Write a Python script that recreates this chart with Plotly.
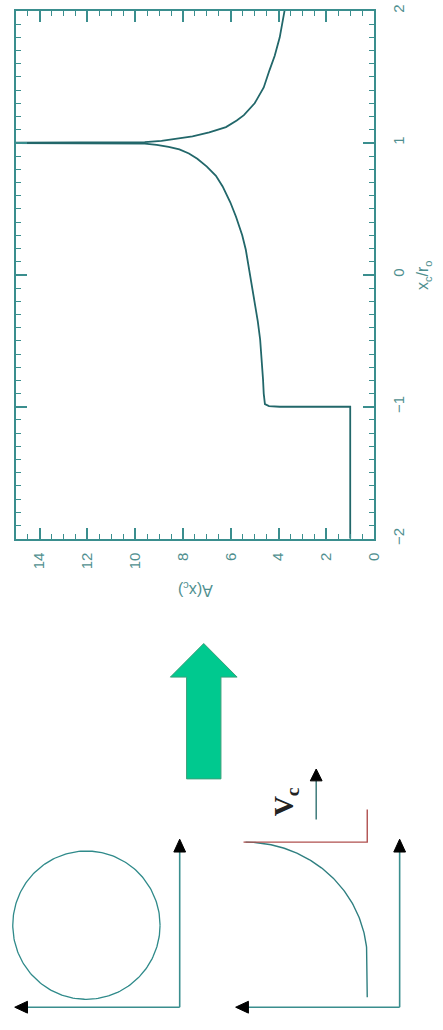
import numpy as np
import plotly.graph_objects as go

# Magnification A as a function of the source-centre position x_c / r_0
xc_pos = [-2.0, -1.0, -1.0, -0.995, -0.98, -0.9, -0.79, -0.65, -0.49, -0.35,
          -0.23, -0.1, 0.0, 0.1, 0.19, 0.3, 0.44, 0.55, 0.67, 0.75, 0.82,
          0.88, 0.92, 0.95, 0.97, 0.985, 0.995, 1.0,
          1.0, 1.005, 1.015, 1.03, 1.05, 1.08, 1.12, 1.17, 1.21, 1.3, 1.42,
          1.55, 1.66, 1.8, 1.9, 2.0]
magnif = [1.0, 1.0, 3.95, 4.4, 4.57, 4.62, 4.65, 4.7, 4.77, 4.87,
          4.98, 5.08, 5.17, 5.27, 5.37, 5.52, 5.78, 6.02, 6.34, 6.62, 7.0,
          7.4, 7.75, 8.15, 8.6, 9.1, 9.6, 20.0,
          20.0, 9.6, 8.9, 8.3, 7.6, 6.9, 6.2, 5.75, 5.45, 5.0, 4.62,
          4.38, 4.16, 3.95, 3.85, 3.75]

a_ticks = [0, 2, 4, 6, 8, 10, 12, 14]
x_ticks = [-2, -1, 0, 1, 2]

W, H = 443, 1030
FRAME = "#3a8e8e"
CURVE = "#22676a"
TEXT = "#4f8f8f"
GREEN = "#00c98f"

fig = go.Figure()

# main panel (drawn turned by 90 degrees: A runs right-to-left, x_c bottom-to-top)
fig.add_trace(go.Scatter(x=magnif, y=xc_pos, mode="lines",
                         line=dict(color=CURVE, width=1.8),
                         xaxis="x", yaxis="y", showlegend=False,
                         hoverinfo="skip"))

# ---- schematic below the panel, in pixel-like units of a hidden axis pair ----
def seg(xs, ys, color=FRAME, width=1.6):
    fig.add_trace(go.Scatter(x=xs, y=ys, mode="lines",
                             line=dict(color=color, width=width),
                             xaxis="x2", yaxis="y2", showlegend=False,
                             hoverinfo="skip"))

def head(tx, ty, dx, dy, length=13, half=6, color="black"):
    # filled triangle with its tip at (tx, ty) pointing along (dx, dy)
    bx, by = tx - dx * length, ty - dy * length
    px, py = -dy, dx
    fig.add_trace(go.Scatter(
        x=[tx, bx + px * half, bx - px * half, tx],
        y=[ty, by + py * half, by - py * half, ty],
        mode="lines", fill="toself", fillcolor=color,
        line=dict(color=color, width=1),
        xaxis="x2", yaxis="y2", showlegend=False, hoverinfo="skip"))

# big green arrow
ax_c, shaft_hw, head_hw = 207.5, 17.5, 34
shaft_lo, shaft_hi, tip = 248, 351, 385
fig.add_trace(go.Scatter(
    x=[ax_c - shaft_hw, ax_c + shaft_hw, ax_c + shaft_hw, ax_c + head_hw,
       ax_c, ax_c - head_hw, ax_c - shaft_hw, ax_c - shaft_hw],
    y=[shaft_lo, shaft_lo, shaft_hi, shaft_hi, tip, shaft_hi, shaft_hi, shaft_lo],
    mode="lines", fill="toself", fillcolor=GREEN,
    line=dict(color="#3aa07a", width=1),
    xaxis="x2", yaxis="y2", showlegend=False, hoverinfo="skip"))

# left sketch: circular source with its frame axes
t = np.linspace(0, 2 * np.pi, 241)
cx, cy, r = 88, 100, 75
seg(cx + r * np.cos(t), cy + r * np.sin(t), color="#2f8a8a", width=1.3)
ox, oy = 183, 17
seg([ox, ox], [oy, 175])
seg([ox, 27], [oy, oy])
head(ox, 187, 0, 1)
head(15, oy, -1, 0)

# right sketch: source edge meeting the caustic, moving with V_c
ox2 = 407
seg([ox2, ox2], [oy, 175])
seg([ox2, 252], [oy, oy])
head(ox2, 187, 0, 1)
head(240, oy, -1, 0)
ex, ey, rx, ry = 250, 65, 124, 119
tt = np.linspace(0, np.pi / 2, 120)
arc_x = np.concatenate([[ex + rx, ex + rx], ex + rx * np.cos(tt)])
arc_y = np.concatenate([[27, ey], ey + ry * np.sin(tt)])
seg(arc_x, arc_y, color="#2f7f80", width=1.4)
seg([248, 374, 374], [184, 184, 217], color="#b0504f", width=1.4)

# velocity arrow and label
seg([322, 322], [207, 246], color="#2f7070", width=1.4)
head(322, 258, 0, 1, length=12, half=6)

fig.add_annotation(x=291, y=225, xref="x2", yref="y2", text="<b>V<sub>c</sub></b>",
                   textangle=-90, showarrow=False,
                   xanchor="center", yanchor="middle",
                   font=dict(family="Liberation Serif", size=28, color="#222222"))

# axis titles
fig.add_annotation(x=199 / W, y=(H - 591) / H, xref="paper", yref="paper",
                   text="A(x<sub>c</sub>)", textangle=180, showarrow=False,
                   xanchor="center", yanchor="middle",
                   font=dict(family="Liberation Sans", size=16, color=TEXT))
fig.add_annotation(x=432 / W, y=(H - 272) / H, xref="paper", yref="paper",
                   text="x<sub>c</sub>/r<sub>o</sub>", textangle=-90, showarrow=False,
                   xanchor="center", yanchor="middle",
                   font=dict(family="Liberation Sans", size=16, color=TEXT))

px0, px1 = 16, 381
py_top, py_bot = 5, 539

fig.update_layout(
    width=W, height=H, margin=dict(l=0, r=0, t=0, b=0),
    paper_bgcolor="white", plot_bgcolor="white", showlegend=False,
    xaxis=dict(domain=[px0 / W, px1 / W], range=[15, 0], anchor="y",
               tickvals=a_ticks, ticktext=[str(v) for v in a_ticks],
               tickangle=-90, ticks="inside", ticklen=11, tickwidth=1.5,
               tickcolor=FRAME, showline=True, linecolor=FRAME, linewidth=1.8,
               mirror="ticks", showgrid=False, zeroline=False,
               minor=dict(dtick=0.5, ticks="inside", ticklen=5,
                          tickwidth=1.3, tickcolor=FRAME, showgrid=False),
               tickfont=dict(family="Liberation Sans", size=15, color=TEXT),
               ticklabelstandoff=6, ticklabeloverflow="allow"),
    yaxis=dict(domain=[(H - py_bot) / H, (H - py_top) / H], range=[-2, 2],
               anchor="x", side="right",
               tickvals=x_ticks, ticktext=["\u22122", "\u22121", "0", "1", "2"],
               tickangle=-90, ticks="inside", ticklen=11, tickwidth=1.5,
               tickcolor=FRAME, showline=True, linecolor=FRAME, linewidth=1.8,
               mirror="ticks", showgrid=False, zeroline=False,
               minor=dict(dtick=0.1, ticks="inside", ticklen=5,
                          tickwidth=1.3, tickcolor=FRAME, showgrid=False),
               tickfont=dict(family="Liberation Sans", size=15, color=TEXT),
               ticklabelstandoff=10, ticklabeloverflow="allow"),
    xaxis2=dict(domain=[0, 1], range=[0, W], visible=False, anchor="y2",
                fixedrange=True),
    yaxis2=dict(domain=[0, 0.4], range=[0, 0.4 * H], visible=False, anchor="x2",
                fixedrange=True),
)

fig.write_html("out.html")
